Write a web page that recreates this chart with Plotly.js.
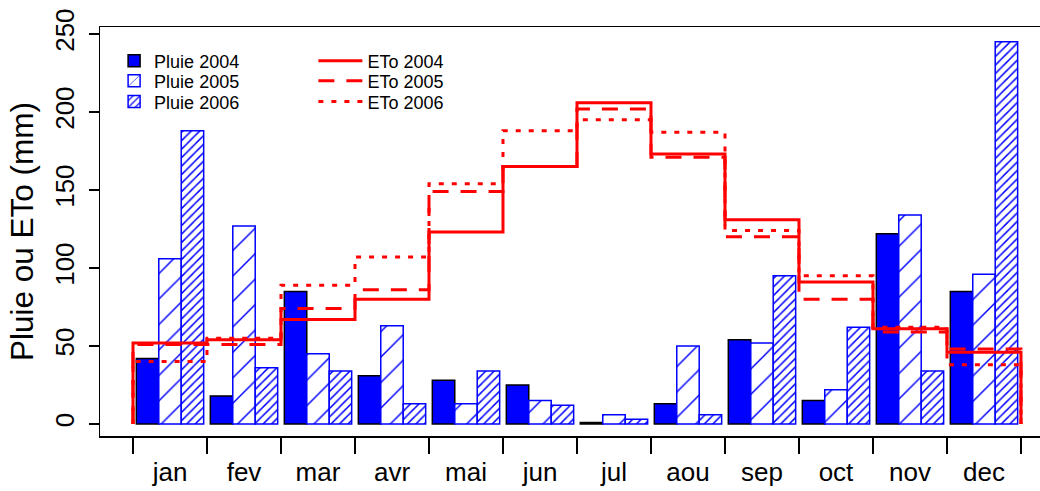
<!DOCTYPE html>
<html>
<head>
<meta charset="utf-8">
<script src="https://cdn.plot.ly/plotly-3.0.1.min.js"></script>
<style>html,body{margin:0;padding:0;background:#fff}</style>
</head>
<body>
<div id="chart" style="width:1040px;height:491px"></div>
<script>
// Monthly rainfall (bars) and reference evapotranspiration (steps), mm
const months = ['jan', 'fev', 'mar', 'avr', 'mai', 'jun', 'jul', 'aou', 'sep', 'oct', 'nov', 'dec'];

const pluie2004 = [42, 18, 85, 31, 28, 25, 1, 13, 54, 15, 122, 85];
const pluie2005 = [106, 127, 45, 63, 13, 15, 6, 50, 52, 22, 134, 96];
const pluie2006 = [188, 36, 34, 13, 34, 12, 3, 6, 95, 62, 34, 245];

const eto2004 = [52, 54, 67, 80, 123, 165, 206, 173, 131, 91, 61, 46];
const eto2005 = [51, 51, 74, 86, 149, 165, 202, 171, 120, 80, 59, 48];
const eto2006 = [40, 55, 89, 107, 154, 188, 195, 187, 124, 95, 62, 38];

const yTicks = [0, 50, 100, 150, 200, 250];

const idx = months.map((_, i) => i);
const edges = months.map((_, i) => i - 0.5).concat([months.length - 0.5]);

// Step outline: rises from 0 at the first month edge, one level per month, falls back to 0
function stepX() {
  const xs = [edges[0]];
  for (let i = 0; i < months.length; i++) xs.push(edges[i]);
  xs.push(edges[months.length], edges[months.length]);
  return xs;
}
function stepY(v) {
  return [0].concat(v, [v[v.length - 1], 0]);
}

const BLUE = '#0000FF';
const RED = '#FF0000';

const bar2004 = {
  type: 'bar', name: 'Pluie 2004', x: idx, y: pluie2004, legend: 'legend',
  marker: { color: BLUE, line: { color: 'black', width: 1.5 } }
};
const bar2005 = {
  type: 'bar', name: 'Pluie 2005', x: idx, y: pluie2005, legend: 'legend2',
  marker: {
    color: 'white', line: { color: BLUE, width: 1.5 },
    pattern: { shape: '/', size: 18, solidity: 0.08, fgcolor: BLUE, bgcolor: 'white' }
  }
};
const bar2006 = {
  type: 'bar', name: 'Pluie 2006', x: idx, y: pluie2006, legend: 'legend3',
  marker: {
    color: 'white', line: { color: BLUE, width: 1.5 },
    pattern: { shape: '/', size: 6, solidity: 0.25, fgcolor: BLUE, bgcolor: 'white' }
  }
};

function etoTrace(name, vals, dash, legendId) {
  return {
    type: 'scatter', mode: 'lines', name: name, legend: legendId,
    x: stepX(), y: stepY(vals),
    line: { color: RED, width: 3, shape: 'hv', dash: dash }
  };
}

const data = [
  bar2004, bar2005, bar2006,
  etoTrace('ETo 2004', eto2004, 'solid', 'legend4'),
  etoTrace('ETo 2005', eto2005, '16px,12px', 'legend5'),
  etoTrace('ETo 2006', eto2006, '5px,8px', 'legend6')
];

const FONT = 'Liberation Sans, Arial, sans-serif';

// one legend box per entry so the rows can sit close together in two columns
function legendBox(x, y, itemwidth) {
  return {
    x: x, y: y, xanchor: 'left', yanchor: 'middle',
    bgcolor: 'rgba(0,0,0,0)', borderwidth: 0, itemwidth: itemwidth,
    font: { size: 18, family: FONT }
  };
}
const rowY = [0.917, 0.868, 0.817];

const layout = {
  width: 1040, height: 491,
  margin: { l: 100, r: 0, t: 27, b: 55 },
  paper_bgcolor: 'white', plot_bgcolor: 'white',
  font: { family: FONT, color: 'black' },
  barmode: 'group', bargap: 0.09, bargroupgap: 0,
  showlegend: true,
  xaxis: {
    range: [-0.946, 11.757],
    tickmode: 'array', tickvals: idx, ticktext: months,
    ticks: '', ticklabelstandoff: 12,
    tickfont: { size: 26, family: FONT },
    minor: { tickmode: 'array', tickvals: edges, ticks: 'outside', ticklen: 16, tickwidth: 1.5, tickcolor: 'black' },
    showline: true, linecolor: 'black', linewidth: 1.5, mirror: true,
    showgrid: false, zeroline: false, fixedrange: true
  },
  yaxis: {
    range: [-7.69, 254.49],
    tickmode: 'array', tickvals: yTicks,
    ticks: 'outside', ticklen: 10, tickwidth: 1.5, tickcolor: 'black',
    tickangle: -90, tickfont: { size: 26, family: FONT }, ticklabelstandoff: 4,
    showline: true, linecolor: 'black', linewidth: 1.5,
    showgrid: false, zeroline: false, fixedrange: true,
    title: { text: 'Pluie ou ETo (mm)', font: { size: 31.5, family: FONT }, standoff: 7 }
  },
  legend: legendBox(0.015, rowY[0], 30),
  legend2: legendBox(0.015, rowY[1], 30),
  legend3: legendBox(0.015, rowY[2], 30),
  legend4: legendBox(0.227, rowY[0], 44),
  legend5: legendBox(0.227, rowY[1], 44),
  legend6: legendBox(0.227, rowY[2], 44)
};

Plotly.newPlot('chart', data, layout, { displayModeBar: false, staticPlot: true });
</script>
</body>
</html>
